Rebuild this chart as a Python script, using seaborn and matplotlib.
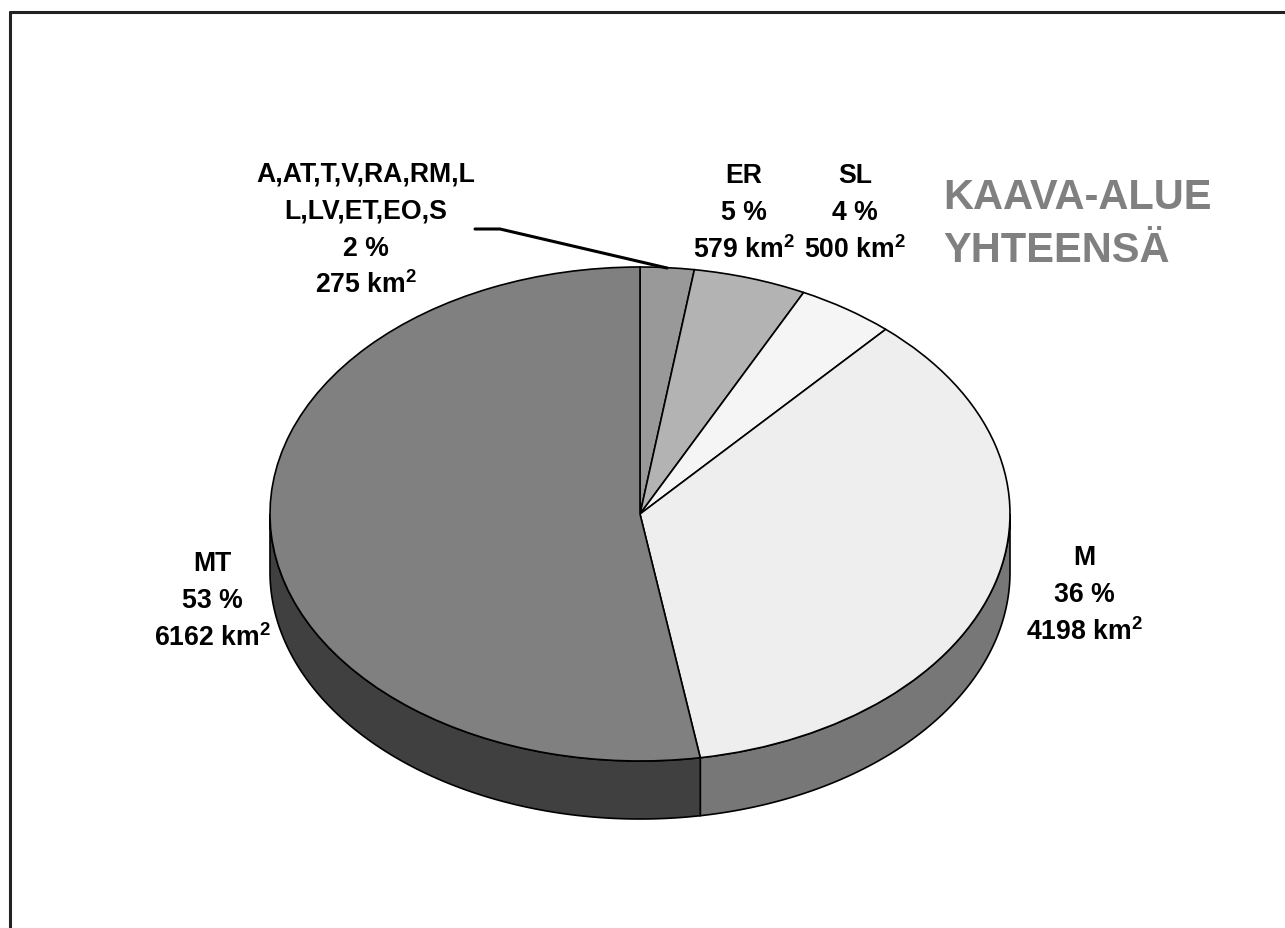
import numpy as np
import matplotlib
matplotlib.use("Agg")
import matplotlib.pyplot as plt
from matplotlib.patches import Polygon
from matplotlib.lines import Line2D
import seaborn as sns

################ DATA ################
names = ["A,AT,T,V,RA,RM,L\nL,LV,ET,EO,S", "ER", "SL", "M", "MT"]
areas_km2 = [275, 579, 500, 4198, 6162]
top_colors = ["#999999", "#b3b3b3", "#f5f5f5", "#eeeeee", "#808080"]
side_colors = ["#4c4c4c", "#595959", "#7a7a7a", "#777777", "#404040"]
title_lines = ["KAAVA-ALUE", "YHTEENSÄ"]

sns.set_theme(style="white")
plt.rcParams['font.family'] = ['Liberation Sans', 'DejaVu Sans']
plt.rcParams['mathtext.fontset'] = 'custom'
plt.rcParams['mathtext.rm'] = 'Liberation Sans:bold'
plt.rcParams['mathtext.bf'] = 'Liberation Sans:bold'
plt.rcParams['mathtext.it'] = 'Liberation Sans:bold'

W, H = 1285, 929
fig = plt.figure(figsize=(W / 100, H / 100), dpi=100)
fig.patch.set_facecolor("white")
ax = fig.add_axes([0, 0, 1, 1])

# pie geometry in pixels (centre, radii, depth of the 3D side)
cx, cy, rx, ry, depth = 640, 515, 370, 247, 58

wedges, _ = ax.pie(
    areas_km2,
    colors=top_colors,
    startangle=90,
    counterclock=False,
    radius=1,
    wedgeprops=dict(edgecolor="black", linewidth=1.2),
)
ax.set_aspect("auto")
ax.set_xlim(-cx / rx, (W - cx) / rx)
ax.set_ylim(-(H - cy) / ry, cy / ry)
ax.axis("off")

# 3D side walls for the front half of each wedge
d = depth / ry
for w, sc in zip(wedges, side_colors):
    t1, t2 = w.theta1, w.theta2
    for k in (-360, 0, 360):
        lo, hi = max(t1, 180 + k), min(t2, 360 + k)
        if lo < hi:
            th = np.radians(np.linspace(lo, hi, 200))
            top = np.column_stack([np.cos(th), np.sin(th)])
            bot = np.column_stack([np.cos(th[::-1]), np.sin(th[::-1]) - d])
            ax.add_patch(Polygon(np.vstack([top, bot]), closed=True,
                                 facecolor=sc, edgecolor="black",
                                 linewidth=1.2, zorder=0.5))


def fx(px):
    return px / W


def fy(py):
    return 1 - py / H


# data labels
total = sum(areas_km2)
pcts = [round(a / total * 100) for a in areas_km2]
label_pos = [(366, 181), (744, 183), (855, 183), (1084, 565), (212, 571)]
for name, a, p, (x, b0) in zip(names, areas_km2, pcts, label_pos):
    lines = name.split("\n") + [f"{p} %", f"{a} km$^{{2}}$"]
    for i, line in enumerate(lines):
        fig.text(fx(x), fy(b0 + i * 37.5), line, ha="center", va="baseline",
                 fontsize=19.2, fontweight="bold", color="black")

# leader line for the small slice
fig.add_artist(Line2D([fx(475), fx(500), fx(667)], [fy(230), fy(230), fy(269)],
                      color="black", linewidth=2.2))

# title block
for i, t in enumerate(title_lines):
    fig.text(fx(943), fy(209 + i * 53), t, ha="left", va="baseline",
             fontsize=30, fontweight="bold", color="#808080")

# chart frame (only top and left edges visible)
fig.add_artist(Line2D([fx(10), fx(W)], [fy(13), fy(13)], color="#222222", linewidth=2.2))
fig.add_artist(Line2D([fx(10), fx(10)], [fy(13), fy(H)], color="#222222", linewidth=2.2))

fig.savefig("out.png", dpi=100, facecolor="white")
